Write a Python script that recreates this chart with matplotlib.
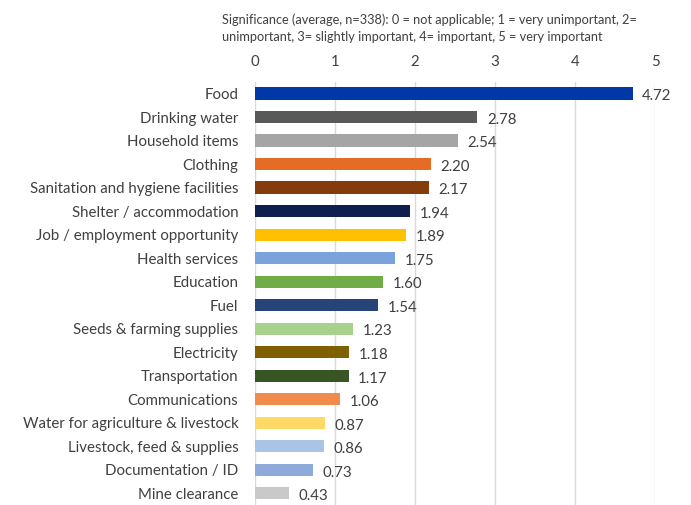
import matplotlib.pyplot as plt
import numpy as np

plt.rcParams['font.family'] = ['Lato', 'DejaVu Sans']

categories = ["Food", "Drinking water", "Household items", "Clothing",
              "Sanitation and hygiene facilities", "Shelter / accommodation",
              "Job / employment opportunity", "Health services", "Education",
              "Fuel", "Seeds & farming supplies", "Electricity", "Transportation",
              "Communications", "Water for agriculture & livestock",
              "Livestock, feed & supplies", "Documentation / ID", "Mine clearance"]
values = [4.72, 2.78, 2.54, 2.20, 2.17, 1.94, 1.89, 1.75, 1.60, 1.54,
          1.23, 1.18, 1.17, 1.06, 0.87, 0.86, 0.73, 0.43]
colors = ["#0039A6", "#595959", "#A5A5A5", "#E46C24", "#843C0C", "#0E1F4F",
          "#FFC000", "#7BA3DB", "#70AD47", "#264478", "#A9D18E", "#7F6000",
          "#375623", "#F08C4D", "#FFD966", "#A9C4E5", "#8EAADB", "#C9C9C9"]
ticks = [0, 1, 2, 3, 4, 5]

fig = plt.figure(figsize=(6.91, 5.05), dpi=100)
ax = fig.add_axes([0.369, 0.0, 0.579, 0.838])

y = np.arange(len(categories))
ax.barh(y, values, height=0.52, color=colors, zorder=3)
for yi, v in zip(y, values):
    ax.text(v + 0.12, yi + 0.12, f"{v:.2f}", va="center", ha="left",
            fontsize=10.8, color="#404040")

ax.set_ylim(len(categories) - 0.5, -0.5)
ax.set_xlim(0, 5)
ax.set_yticks(y)
ax.set_yticklabels(categories, fontsize=10.8, color="#404040")
ax.set_xticks(ticks)
ax.xaxis.tick_top()
ax.tick_params(axis="x", labelsize=10.8, colors="#404040", length=0, pad=9)
ax.tick_params(axis="y", length=0, pad=12)
ax.grid(axis="x", color="#D9D9D9", linewidth=1, zorder=0)
for s in ax.spines.values():
    s.set_visible(False)

fig.text(0.321, 0.944, "Significance (average, n=338): 0 = not applicable; 1 = very unimportant, 2=\n"
         "unimportant, 3= slightly important, 4= important, 5 = very important",
         fontsize=9.2, color="#404040", ha="left", va="center", linespacing=1.55)

fig.savefig("out.png", dpi=100)
